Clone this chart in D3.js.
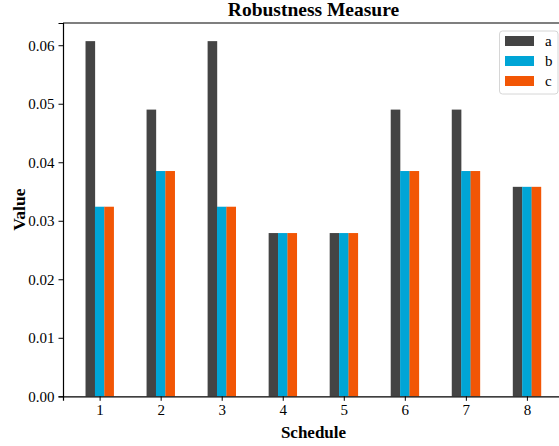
<!DOCTYPE html>
<html>
<head>
<meta charset="utf-8">
<script src="https://cdn.jsdelivr.net/npm/d3@7"></script>
<style>
  body { margin: 0; background: #fff; }
  svg text { font-family: "Liberation Serif", "Times New Roman", "DejaVu Serif", serif; fill: #000; }
</style>
</head>
<body>
<div id="chart"></div>
<script>
var schedules = ["1", "2", "3", "4", "5", "6", "7", "8"];
var seriesNames = ["a", "b", "c"];
var valuesA = [0.0607, 0.0490, 0.0607, 0.0279, 0.0279, 0.0490, 0.0490, 0.0358];
var valuesB = [0.0324, 0.0385, 0.0324, 0.0279, 0.0279, 0.0385, 0.0385, 0.0358];
var valuesC = [0.0324, 0.0385, 0.0324, 0.0279, 0.0279, 0.0385, 0.0385, 0.0358];
var yTicks = [0.00, 0.01, 0.02, 0.03, 0.04, 0.05, 0.06];
var colors = ["#444444", "#00a5d6", "#f25605"];

function drawChart(divIdStr){
	var W = 559, H = 446;
	var margin = {top: 23, left: 63, bottom: 50};
	var plotRight = 564;
	var plotBottom = H - margin.bottom + 0.3;

	var series = [valuesA, valuesB, valuesC];

	var svg = d3.select("#"+divIdStr).append("svg")
		.attr("width", W)
		.attr("height", H);

	// linear x so group centers match the picture
	var step = 61.04;
	var x = d3.scaleLinear().domain([-0.6, 7.6]).range([margin.left, margin.left + step * 8.2]);
	var y = d3.scaleLinear().domain([0, 0.0638]).range([plotBottom, margin.top]);
	var barW = 9.4;

	schedules.forEach(function(s, i){
		var g = svg.append("g").attr("class", "group");
		g.selectAll("rect")
			.data(series.map(function(arr, k){ return {k: k, v: arr[i]}; }))
			.enter().append("rect")
			.attr("x", function(d){ return x(i) - 1.5 * barW + d.k * barW; })
			.attr("y", function(d){ return y(d.v); })
			.attr("width", barW + 0.2)
			.attr("height", function(d){ return y(0) - y(d.v); })
			.attr("fill", function(d){ return colors[d.k]; });
	});

	// axes
	var xAxis = svg.append("g")
		.attr("transform", "translate(0," + plotBottom + ")")
		.call(d3.axisBottom(x).tickValues(d3.range(schedules.length))
			.tickFormat(function(d){ return schedules[d]; })
			.tickSize(4.5).tickPadding(4));
	xAxis.select(".domain").attr("stroke", "#000").attr("stroke-width", 1.2);
	xAxis.selectAll("text").style("font-size", "15px");

	var yAxis = svg.append("g")
		.attr("transform", "translate(" + margin.left + ",0)")
		.call(d3.axisLeft(y).tickValues(yTicks)
			.tickFormat(d3.format(".2f"))
			.tickSize(4.5).tickPadding(4));
	yAxis.select(".domain").attr("stroke", "#000").attr("stroke-width", 1.2);
	yAxis.selectAll("text").style("font-size", "15px");

	// top spine
	svg.append("line")
		.attr("x1", margin.left).attr("x2", plotRight)
		.attr("y1", margin.top).attr("y2", margin.top)
		.attr("stroke", "#000").attr("stroke-width", 1.2);

	// title + labels
	svg.append("text")
		.attr("x", (margin.left + plotRight) / 2)
		.attr("y", 16)
		.attr("text-anchor", "middle")
		.style("font-size", "19.5px").style("font-weight", "bold")
		.text("Robustness Measure");

	svg.append("text")
		.attr("x", (margin.left + plotRight) / 2)
		.attr("y", 438)
		.attr("text-anchor", "middle")
		.style("font-size", "17px").style("font-weight", "bold")
		.text("Schedule");

	svg.append("text")
		.attr("transform", "translate(25," + ((margin.top + plotBottom) / 2) + ") rotate(-90)")
		.attr("text-anchor", "middle")
		.style("font-size", "17.5px").style("font-weight", "bold")
		.text("Value");

	// legend
	var lg = svg.append("g").attr("transform", "translate(499,31)");
	lg.append("rect")
		.attr("x", 0.5).attr("y", 0)
		.attr("width", 58.5).attr("height", 63)
		.attr("rx", 3)
		.attr("fill", "#fff").attr("fill-opacity", 0.8)
		.attr("stroke", "#d6d6d6").attr("stroke-width", 1);
	var items = lg.selectAll(".item")
		.data(seriesNames)
		.enter().append("g")
		.attr("transform", function(d, i){ return "translate(0," + (i * 20) + ")"; });
	items.append("rect")
		.attr("x", 6).attr("y", 5)
		.attr("width", 29).attr("height", 10)
		.attr("fill", function(d, i){ return colors[i]; });
	items.append("text")
		.attr("x", 46).attr("y", 15)
		.style("font-size", "15px")
		.text(function(d){ return d; });
}

drawChart("chart");
</script>
</body>
</html>
